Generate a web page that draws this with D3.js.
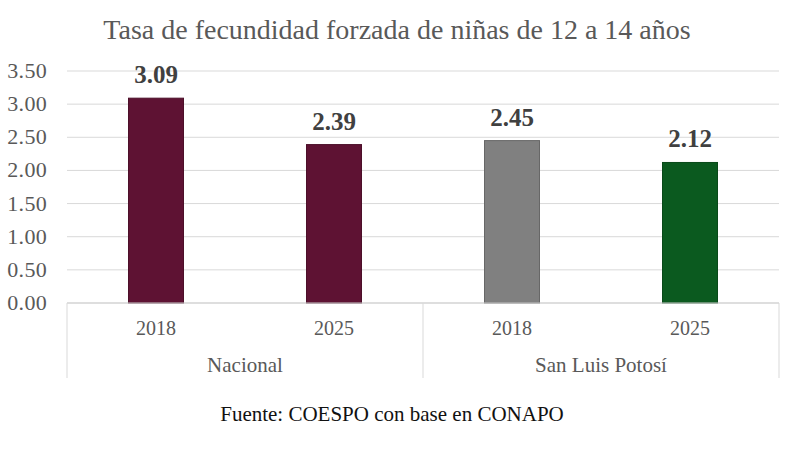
<!DOCTYPE html>
<html>
<head>
<meta charset="utf-8">
<script src="https://cdn.jsdelivr.net/npm/d3@7"></script>
<style>
  body { margin: 0; background: #fff; }
  text { font-family: "Liberation Serif", "DejaVu Serif", serif; }
</style>
</head>
<body>
<div id="chart"></div>
<script>
const groups = ['Nacional', 'San Luis Potosí'];
const years = ['2018', '2025', '2018', '2025'];
const groupOf = [0, 0, 1, 1];
const values = [3.09, 2.39, 2.45, 2.12];
const colors = ['#5e1233', '#5e1233', '#808080', '#0b5a1f'];
const yTicks = [0, 0.5, 1, 1.5, 2, 2.5, 3, 3.5];

const w = 800, h = 449;
const padL = 67, padR = 779, padT = 71, padB = 303;

const svg = d3.select('#chart').append('svg')
  .attr('width', w).attr('height', h);

const x = d3.scaleBand().domain(d3.range(values.length)).range([padL, padR]).paddingInner(0).paddingOuter(0);
const y = d3.scaleLinear().domain([0, 3.5]).range([padB, padT]);
const bw = 55;

svg.append('text')
  .attr('x', 397).attr('y', 39)
  .attr('text-anchor', 'middle')
  .attr('font-size', 28)
  .attr('fill', '#595959')
  .text('Tasa de fecundidad forzada de niñas de 12 a 14 años');

// grid
svg.append('g').selectAll('line').data(yTicks).join('line')
  .attr('x1', padL).attr('x2', padR)
  .attr('y1', d => y(d)).attr('y2', d => y(d))
  .attr('stroke', '#d9d9d9').attr('stroke-width', 1);

svg.append('g').selectAll('text').data(yTicks).join('text')
  .attr('x', 47).attr('y', d => y(d) + 7)
  .attr('text-anchor', 'end')
  .attr('font-size', 22)
  .attr('letter-spacing', 0.3)
  .attr('fill', '#595959')
  .text(d => d.toFixed(2));

// bars
svg.append('g').selectAll('rect').data(values).join('rect')
  .attr('x', (d, i) => x(i) + x.bandwidth() / 2 - bw / 2)
  .attr('width', bw)
  .attr('y', d => y(d))
  .attr('height', d => y(0) - y(d))
  .attr('fill', (d, i) => colors[i])
  .attr('stroke', (d, i) => d3.color(colors[i]).darker(0.6))
  .attr('stroke-width', 1);

svg.append('g').selectAll('text').data(values).join('text')
  .attr('x', (d, i) => x(i) + x.bandwidth() / 2)
  .attr('y', d => y(d) - 15)
  .attr('text-anchor', 'middle')
  .attr('font-size', 25)
  .attr('font-weight', 'bold')
  .attr('fill', '#404040')
  .text(d => d.toFixed(2));

// category axis
svg.append('line')
  .attr('x1', padL).attr('x2', padR)
  .attr('y1', y(0)).attr('y2', y(0))
  .attr('stroke', '#d0d0d0');

const seps = [0, 2, 4].map(i => i < values.length ? x(i) : padR);
svg.append('g').selectAll('line').data(seps).join('line')
  .attr('x1', d => d).attr('x2', d => d)
  .attr('y1', y(0)).attr('y2', 378)
  .attr('stroke', '#d9d9d9');

svg.append('g').selectAll('text').data(years).join('text')
  .attr('x', (d, i) => x(i) + x.bandwidth() / 2)
  .attr('y', 335)
  .attr('text-anchor', 'middle')
  .attr('font-size', 20)
  .attr('fill', '#595959')
  .text(d => d);

svg.append('g').selectAll('text').data(groups).join('text')
  .attr('x', (d, gi) => {
    const idx = d3.range(values.length).filter(i => groupOf[i] === gi);
    return (x(idx[0]) + x(idx[idx.length - 1]) + x.bandwidth()) / 2;
  })
  .attr('y', 372)
  .attr('text-anchor', 'middle')
  .attr('font-size', 21)
  .attr('fill', '#595959')
  .text(d => d);

svg.append('text')
  .attr('x', 392).attr('y', 421)
  .attr('text-anchor', 'middle')
  .attr('font-size', 21)
  .attr('fill', '#111')
  .text('Fuente: COESPO con base en CONAPO');
</script>
</body>
</html>
